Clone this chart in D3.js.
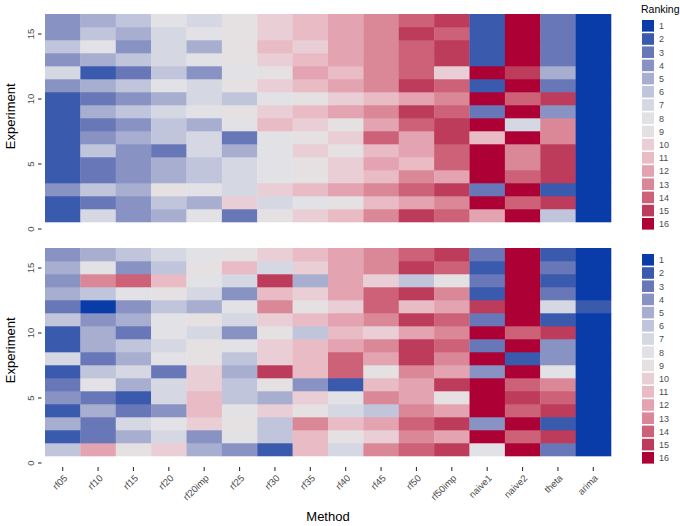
<!DOCTYPE html>
<html>
<head>
<meta charset="utf-8">
<script src="https://cdn.jsdelivr.net/npm/d3@7"></script>
<style>
  body { margin: 0; background: #ffffff; }
  svg { display: block; font-family: "Liberation Sans", Arial, Helvetica, sans-serif; }
</style>
</head>
<body>
<svg id="chart" width="680" height="526"></svg>
<script>
// ---------------- data ----------------
const methods = ["rf05","rf10","rf15","rf20","rf20imp","rf25","rf30","rf35","rf40","rf45","rf50","rf50imp","naive1","naive2","theta","arima"];
const experiments = [1,2,3,4,5,6,7,8,9,10,11,12,13,14,15,16];
const rankLevels = [1,2,3,4,5,6,7,8,9,10,11,12,13,14,15,16];
const rankColors = ["#0a3ca9","#3a5aae","#6877b8","#8893c4","#a7aed0","#c1c5dc","#d5d7e3","#e2e2e6","#e5e1e3","#e9ced5","#e8bbc5","#e3a3b1","#da8797","#cd6178","#be3c5b","#ad0035"];
const yTicks = [0,5,10,15];

// ranks per experiment (rows exp 1..16), columns in methods order
const topRanks = [
  [2,7,4,5,8,3,9,10,11,13,15,14,12,16,6,1],
  [2,3,4,6,5,10,7,8,9,11,12,13,16,14,15,1],
  [4,6,5,9,8,7,10,11,12,13,14,15,3,16,2,1],
  [2,3,4,5,6,7,8,9,10,11,13,12,16,14,15,1],
  [2,3,4,5,6,7,8,9,10,12,11,14,16,13,15,1],
  [2,6,4,3,7,5,8,10,9,11,12,14,16,13,15,1],
  [2,4,5,6,7,3,8,9,10,14,12,15,11,16,13,1],
  [2,3,4,6,5,8,11,10,9,12,14,15,16,7,13,1],
  [2,5,6,7,8,9,10,11,12,13,15,14,3,16,4,1],
  [2,3,4,5,7,6,8,9,10,11,12,13,16,14,15,1],
  [4,5,6,8,7,9,10,11,12,13,15,14,2,16,3,1],
  [7,2,3,6,4,8,9,12,11,13,14,10,16,15,5,1],
  [4,5,6,7,8,9,10,11,12,13,14,15,2,16,3,1],
  [6,8,4,7,5,9,11,10,12,13,14,15,2,16,3,1],
  [4,6,5,7,8,9,10,11,12,13,15,14,2,16,3,1],
  [4,5,6,8,7,9,10,11,12,13,14,15,2,16,3,1]
];
const bottomRanks = [
  [6,12,9,10,5,4,2,11,7,13,14,15,8,16,3,1],
  [2,3,5,7,4,8,6,11,9,10,13,12,16,14,15,1],
  [5,3,7,8,10,9,6,13,11,12,14,15,4,16,2,1],
  [2,5,3,4,11,8,10,9,7,6,13,12,16,14,15,1],
  [4,3,2,7,11,6,5,10,8,13,12,9,16,15,14,1],
  [3,8,5,7,10,6,9,4,2,11,12,15,16,14,13,1],
  [2,6,7,3,10,5,15,11,14,9,13,12,4,16,8,1],
  [7,3,5,8,9,6,10,11,14,12,15,13,16,2,4,1],
  [2,5,6,7,9,8,10,11,12,13,15,14,3,16,4,1],
  [2,5,3,8,7,4,9,6,11,10,12,13,16,14,15,1],
  [6,4,5,8,9,7,10,11,12,13,15,14,3,16,2,1],
  [3,1,4,6,5,8,13,9,10,14,11,12,15,16,7,2],
  [5,6,8,9,7,4,11,10,12,14,15,13,2,16,3,1],
  [4,13,14,11,8,7,15,5,12,10,6,9,3,16,2,1],
  [5,8,4,6,9,11,7,10,12,13,15,14,2,16,3,1],
  [4,5,6,7,8,9,10,11,12,13,14,15,3,16,2,1]
];

// ---------------- drawing ----------------
const svg = d3.select("#chart");
const color = d3.scaleOrdinal().domain(rankLevels).range(rankColors);
const x = d3.scaleBand().domain(methods).range([45, 611]).padding(0);

const panels = [
  { ranks: topRanks,    y: d3.scaleLinear().domain([0, 16.5]).range([228.5, 14]),  xAxis: false, legendTitle: true },
  { ranks: bottomRanks, y: d3.scaleLinear().domain([0, 16.5]).range([462.5, 248]), xAxis: true,  legendTitle: false }
];

const tickColor = "#4d4d4d";

panels.forEach(p => {
  const cells = [];
  p.ranks.forEach((row, i) => row.forEach((r, j) => cells.push({ exp: experiments[i], method: methods[j], rank: r })));
  const g = svg.append("g");
  g.selectAll("rect").data(cells).join("rect")
    .attr("x", d => x(d.method))
    .attr("width", x.bandwidth() + 0.3)
    .attr("y", d => p.y(d.exp + 0.5))
    .attr("height", d => p.y(d.exp - 0.5) - p.y(d.exp + 0.5) + 0.3)
    .attr("fill", d => color(d.rank));

  // y axis
  const ya = svg.append("g").attr("transform", "translate(41.5,0)")
    .call(d3.axisLeft(p.y).tickValues(yTicks).tickSize(3.5).tickSizeOuter(0));
  ya.select(".domain").remove();
  ya.selectAll(".tick line").attr("stroke", "#333").attr("stroke-width", 1.1);
  ya.selectAll(".tick text")
    .attr("transform", "rotate(-90)")
    .attr("x", 0).attr("y", -7.5).attr("dy", 0)
    .attr("text-anchor", "middle")
    .attr("fill", tickColor)
    .style("font-size", "9.5px");

  // y title
  const yr = p.y.range();
  svg.append("text")
    .attr("transform", `translate(15,${(yr[0] + yr[1]) / 2 - 5}) rotate(-90)`)
    .attr("text-anchor", "middle")
    .style("font-size", "13px")
    .attr("fill", "#000")
    .text("Experiment");

  // x axis on bottom panel
  if (p.xAxis) {
    const xa = svg.append("g").attr("transform", "translate(0,467)")
      .call(d3.axisBottom(x).tickSize(4).tickSizeOuter(0));
    xa.select(".domain").remove();
    xa.selectAll(".tick line").attr("stroke", "#333").attr("stroke-width", 1.1);
    xa.selectAll(".tick text")
      .attr("text-anchor", "end")
      .attr("transform", "rotate(-45)")
      .attr("x", -4.5).attr("y", 12).attr("dy", 0)
      .attr("fill", tickColor)
      .style("font-size", "9.5px");
  }

  // legend
  const ly0 = yr[1] + 6;
  const lg = svg.append("g").attr("transform", `translate(642,${ly0})`);
  if (p.legendTitle) {
    svg.append("text").attr("x", 641).attr("y", 13)
      .style("font-size", "10.5px").attr("fill", "#000").text("Ranking");
  }
  const item = lg.selectAll("g").data(rankLevels).join("g")
    .attr("transform", (d, i) => `translate(0,${i * 13.2})`);
  item.append("rect").attr("width", 12).attr("height", 11.6).attr("fill", d => color(d));
  item.append("text").attr("x", 17).attr("y", 6).attr("dy", "0.35em")
    .style("font-size", "9px").attr("fill", tickColor).text(d => d);
});

// x title
svg.append("text").attr("x", 328).attr("y", 521).attr("text-anchor", "middle")
  .style("font-size", "13px").attr("fill", "#000").text("Method");
</script>
</body>
</html>
